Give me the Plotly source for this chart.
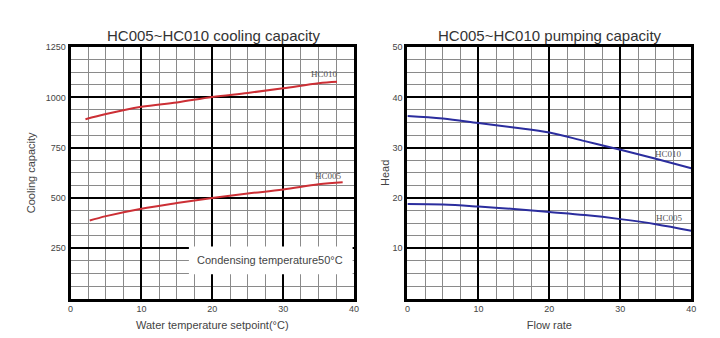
import plotly.graph_objects as go

# ---- data ----
cool_hc010_x = [2.1, 5, 10, 15, 20, 25, 30, 35, 37.6]
cool_hc010_y = [891, 917, 953, 975, 1002, 1022, 1045, 1070, 1077]
cool_hc005_x = [2.7, 5, 10, 15, 20, 25, 30, 35, 38.4]
cool_hc005_y = [388, 410, 447, 475, 500, 522, 542, 568, 578]

pump_x = [0, 5, 10, 15, 20, 25, 30, 35, 40]
pump_hc010_y = [36.3, 35.8, 34.9, 34.0, 33.0, 31.3, 29.6, 27.8, 25.9]
pump_hc005_y = [18.8, 18.7, 18.3, 17.8, 17.2, 16.6, 15.8, 14.8, 13.5]

x_ticks = [0, 10, 20, 30, 40]
cool_y_ticks = [250, 500, 750, 1000, 1250]
pump_y_ticks = [10, 20, 30, 40, 50]

left_title = "HC005~HC010 cooling capacity"
right_title = "HC005~HC010 pumping capacity"

fig = go.Figure()
red = "#cc2f35"
blue = "#2b2d9e"

fig.add_trace(go.Scatter(x=cool_hc010_x, y=cool_hc010_y, mode="lines",
                         line=dict(color=red, width=2, shape="spline"),
                         xaxis="x", yaxis="y", showlegend=False))
fig.add_trace(go.Scatter(x=cool_hc005_x, y=cool_hc005_y, mode="lines",
                         line=dict(color=red, width=2, shape="spline"),
                         xaxis="x", yaxis="y", showlegend=False))
fig.add_trace(go.Scatter(x=pump_x, y=pump_hc010_y, mode="lines",
                         line=dict(color=blue, width=2, shape="spline"),
                         xaxis="x2", yaxis="y2", showlegend=False))
fig.add_trace(go.Scatter(x=pump_x, y=pump_hc005_y, mode="lines",
                         line=dict(color=blue, width=2, shape="spline"),
                         xaxis="x2", yaxis="y2", showlegend=False))

tickfont = dict(family="Liberation Sans, Arial", size=9, color="#444")
titlefont = dict(family="Liberation Sans, Arial", size=11, color="#444")

def xaxis(domain, anchor, title):
    return dict(domain=domain, anchor=anchor, range=[0, 40],
                tickvals=x_ticks, ticks="", tickfont=tickfont,
                showgrid=True, gridcolor="black", gridwidth=2.2,
                minor=dict(dtick=2.5, tick0=0, showgrid=True, gridcolor="#8a8a8a", gridwidth=1),
                showline=True, linecolor="black", linewidth=3, mirror=True,
                zeroline=False, fixedrange=True,
                title=dict(text=title, font=titlefont, standoff=8))

def yaxis(domain, anchor, rng, tv, minor_dt, title, standoff):
    return dict(domain=domain, anchor=anchor, range=rng,
                tickvals=tv, ticks="", tickfont=tickfont,
                showgrid=True, gridcolor="black", gridwidth=2.2,
                minor=dict(dtick=minor_dt, tick0=0, showgrid=True, gridcolor="#8a8a8a", gridwidth=1),
                showline=True, linecolor="black", linewidth=3, mirror=True,
                zeroline=False, fixedrange=True,
                title=dict(text=title, font=titlefont, standoff=standoff))

ydom = [0.1183, 0.8737]
fig.update_layout(
    width=720, height=338,
    margin=dict(l=0, r=0, t=0, b=0),
    paper_bgcolor="white", plot_bgcolor="white",
    xaxis=xaxis([0.0949, 0.493], "y", "Water temperature setpoint(°C)"),
    yaxis=yaxis(ydom, "x", [0, 1250], cool_y_ticks, 62.5, "Cooling capacity", 8),
    xaxis2=xaxis([0.568, 0.9667], "y2", "Flow rate"),
    yaxis2=yaxis(ydom, "x2", [0, 50], pump_y_ticks, 2.5, "Head", 1),
)

fig.add_shape(type="rect", xref="x", yref="y", x0=16.7, x1=39.8, y0=121, y1=259,
              fillcolor="white", line=dict(width=0), layer="above")

labfont = dict(family="Liberation Serif, DejaVu Serif", size=9, color="#555")
fig.add_annotation(x=28.1, y=191, xref="x", yref="y", text="Condensing temperature50°C",
                   showarrow=False, font=dict(family="Liberation Sans, Arial", size=11, color="#444"))
fig.add_annotation(x=35.8, y=1118, xref="x", yref="y", text="HC010", showarrow=False, font=labfont)
fig.add_annotation(x=36.4, y=607, xref="x", yref="y", text="HC005", showarrow=False, font=labfont)
fig.add_annotation(x=36.8, y=28.7, xref="x2", yref="y2", text="HC010", showarrow=False, font=labfont)
fig.add_annotation(x=36.9, y=16.1, xref="x2", yref="y2", text="HC005", showarrow=False, font=labfont)

tfont = dict(family="Liberation Sans, Arial", size=15, color="#333")
fig.add_annotation(x=213 / 720, y=1 - 31 / 338, xref="paper", yref="paper", text=left_title,
                   xanchor="center", yanchor="middle", showarrow=False, font=tfont)
fig.add_annotation(x=553 / 720, y=1 - 31 / 338, xref="paper", yref="paper", text=right_title,
                   xanchor="center", yanchor="middle", showarrow=False, font=tfont)

fig.write_html("out.html")
